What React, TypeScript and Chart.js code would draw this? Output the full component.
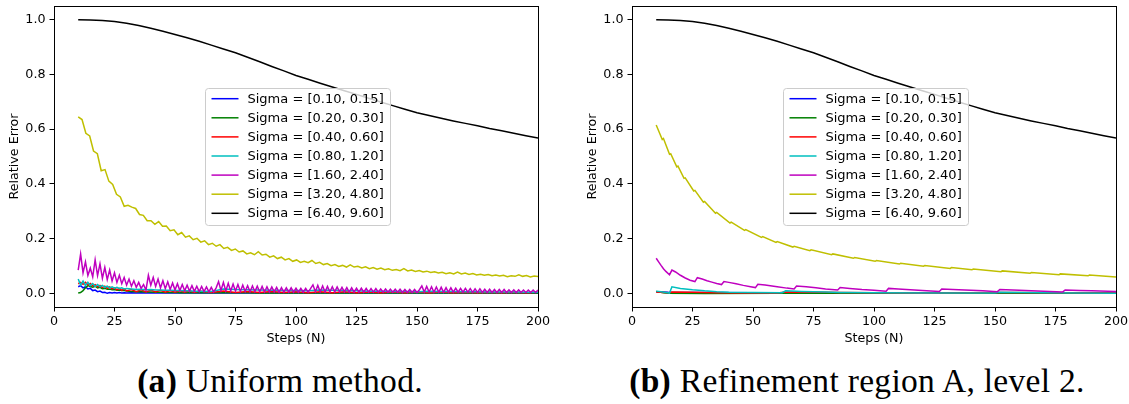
import React, { useEffect, useRef } from "react";
import { Chart, registerables } from "chart.js";

Chart.register(...registerables);

// ---------- labels / ticks ----------
const LABELS = [
  "Sigma = [0.10, 0.15]",
  "Sigma = [0.20, 0.30]",
  "Sigma = [0.40, 0.60]",
  "Sigma = [0.80, 1.20]",
  "Sigma = [1.60, 2.40]",
  "Sigma = [3.20, 4.80]",
  "Sigma = [6.40, 9.60]",
];
const COLORS = ["#0000ff", "#008000", "#ff0000", "#00bfbf", "#bf00bf", "#bfbf00", "#000000"];
const X_TICKS = [0, 25, 50, 75, 100, 125, 150, 175, 200];
const Y_TICKS = [0, 0.2, 0.4, 0.6, 0.8, 1.0];
const X_TITLE = "Steps (N)";
const Y_TITLE = "Relative Error";

// ---------- step grids ----------
const STEPS_INT = Array.from({ length: 191 }, (_, i) => 10 + i);
const STEPS_FINE = Array.from({ length: 121 }, (_, k) => 10 + (190 * k) / 120);
const STEPS_MED = Array.from({ length: 39 }, (_, k) => 10 + 5 * k);
const STEPS_LOW = [
  10, 11, 12, 13, 14, 15, 16, 17, 18, 19, 20, 21, 22, 23, 24, 25, 26, 27, 28, 29, 30,
  32, 34, 36, 38, 40, 42, 44, 46, 48, 50, 52, 54, 56, 58, 60,
  65, 70, 75, 80, 85, 90, 95, 100, 105, 110, 115, 120, 125, 130, 135, 140, 145, 150, 155, 160, 165, 170, 175, 180, 185, 190, 195, 200,
];

// ---------- (a) uniform method ----------
const BLACK = [
  1.0, 0.999, 0.997, 0.993, 0.987, 0.979, 0.969, 0.958, 0.946, 0.934,
  0.921, 0.907, 0.893, 0.879, 0.863, 0.846, 0.829, 0.813, 0.796, 0.782,
  0.768, 0.754, 0.74, 0.727, 0.713, 0.699, 0.686, 0.673, 0.66, 0.65,
  0.64, 0.63, 0.621, 0.612, 0.602, 0.594, 0.585, 0.576, 0.568,
];

const YELLOW_A = [
  0.645, 0.635, 0.585, 0.575, 0.52, 0.51, 0.448, 0.452, 0.41, 0.398,
  0.362, 0.352, 0.318, 0.322, 0.315, 0.31, 0.288, 0.285, 0.265, 0.265,
  0.252, 0.262, 0.245, 0.246, 0.229, 0.232, 0.214, 0.222, 0.205, 0.21,
  0.196, 0.201, 0.187, 0.192, 0.178, 0.183, 0.172, 0.178, 0.164, 0.168,
  0.157, 0.162, 0.151, 0.155, 0.144, 0.148, 0.141, 0.152, 0.14, 0.143,
  0.132, 0.137, 0.127, 0.132, 0.122, 0.127, 0.117, 0.122, 0.113, 0.117,
  0.112, 0.12, 0.109, 0.113, 0.105, 0.109, 0.101, 0.105, 0.098, 0.102,
  0.096, 0.104, 0.096, 0.099, 0.093, 0.097, 0.09, 0.094, 0.088, 0.092,
  0.086, 0.09, 0.084, 0.087, 0.083, 0.09, 0.082, 0.085, 0.08, 0.083,
  0.078, 0.081, 0.076, 0.079, 0.074, 0.077, 0.072, 0.075, 0.071, 0.078,
  0.071, 0.074, 0.069, 0.072, 0.067, 0.07, 0.066, 0.069, 0.064, 0.067,
  0.063, 0.066, 0.061, 0.064, 0.062, 0.068, 0.062, 0.065, 0.06, 0.063,
  0.061,
];

const MAGENTA_A = [
  0.085, 0.144, 0.075, 0.115, 0.065, 0.092, 0.06, 0.122, 0.065, 0.108,
  0.055, 0.095, 0.05, 0.085, 0.045, 0.075, 0.04, 0.066, 0.035, 0.058,
  0.03, 0.052, 0.026, 0.046, 0.022, 0.04, 0.018, 0.032, 0.012, 0.066,
  0.03, 0.058, 0.025, 0.052, 0.02, 0.046, 0.017, 0.042, 0.014, 0.038,
  0.012, 0.035, 0.01, 0.032, 0.009, 0.03, 0.008, 0.028, 0.007, 0.026,
  0.006, 0.025, 0.006, 0.023, 0.005, 0.022, 0.005, 0.02, 0.043, 0.01,
  0.04, 0.009, 0.037, 0.008, 0.034, 0.008, 0.032, 0.007, 0.03, 0.007,
  0.028, 0.006, 0.027, 0.006, 0.026, 0.005, 0.025, 0.005, 0.024, 0.005,
  0.023, 0.005, 0.022, 0.004, 0.021, 0.004, 0.02, 0.004, 0.02, 0.004,
  0.019, 0.004, 0.018, 0.004, 0.018, 0.004, 0.017, 0.031, 0.006, 0.029,
  0.006, 0.027, 0.005, 0.025, 0.005, 0.024, 0.005, 0.023, 0.005, 0.022,
  0.005, 0.021, 0.004, 0.02, 0.004, 0.019, 0.004, 0.019, 0.004, 0.018,
  0.004, 0.017, 0.004, 0.017, 0.004, 0.016, 0.004, 0.016, 0.004, 0.015,
  0.004, 0.015, 0.004, 0.015, 0.003, 0.014, 0.003, 0.014, 0.003, 0.014,
  0.003, 0.013, 0.027, 0.005, 0.025, 0.005, 0.024, 0.004, 0.023, 0.004,
  0.022, 0.004, 0.021, 0.004, 0.02, 0.004, 0.019, 0.004, 0.018, 0.004,
  0.018, 0.004, 0.017, 0.003, 0.016, 0.003, 0.016, 0.003, 0.015, 0.003,
  0.015, 0.003, 0.014, 0.003, 0.014, 0.003, 0.014, 0.003, 0.013, 0.003,
  0.013, 0.003, 0.013, 0.003, 0.012, 0.003, 0.012, 0.003, 0.012, 0.003,
  0.012,
];

const BLUE_A = [
  0.024, 0.028, 0.02, 0.024, 0.016, 0.018, 0.01, 0.012, 0.006, 0.008, 0.003, 0.004, 0.0, 0.003, 0.001, 0.003, 0.001, 0.003, 0.001, 0.002, 0.001,
  0.002, 0.001, 0.002, 0.001, 0.002, 0.001, 0.002, 0.001, 0.001, 0.001, 0.001, 0.001, 0.001, 0.001, 0.001,
  0.001, 0.002, 0.001, 0.002, 0.001, 0.001, 0.001, 0.002, 0.001, 0.001, 0.001, 0.001, 0.001, 0.001, 0.001, 0.001, 0.001, 0.001, 0.001, 0.001, 0.001, 0.001, 0.001, 0.001, 0.001, 0.001, 0.001, 0.001,
];
const GREEN_A = [
  0.001, 0.003, 0.01, 0.02, 0.028, 0.025, 0.022, 0.026, 0.02, 0.022, 0.017, 0.018, 0.015, 0.016, 0.013, 0.014, 0.011, 0.012, 0.01, 0.01, 0.008,
  0.007, 0.006, 0.006, 0.005, 0.005, 0.004, 0.004, 0.003, 0.003, 0.003, 0.002, 0.002, 0.002, 0.002, 0.002,
  0.002, 0.002, 0.002, 0.002, 0.001, 0.001, 0.001, 0.001, 0.001, 0.001, 0.001, 0.001, 0.001, 0.001, 0.001, 0.001, 0.001, 0.001, 0.001, 0.001, 0.001, 0.001, 0.001, 0.001, 0.001, 0.001, 0.001, 0.001,
];
const RED_A = [
  0.035, 0.04, 0.033, 0.04, 0.03, 0.036, 0.027, 0.032, 0.024, 0.029, 0.021, 0.026, 0.018, 0.023, 0.016, 0.02, 0.013, 0.018, 0.011, 0.016, 0.009,
  0.014, 0.006, 0.013, 0.005, 0.012, 0.005, 0.011, 0.004, 0.01, 0.004, 0.009, 0.004, 0.009, 0.003, 0.008,
  0.003, 0.008, 0.003, 0.007, 0.003, 0.007, 0.003, 0.006, 0.002, 0.006, 0.002, 0.006, 0.002, 0.005, 0.002, 0.005, 0.002, 0.005, 0.002, 0.005, 0.002, 0.004, 0.002, 0.004, 0.002, 0.004, 0.002, 0.004,
];
const CYAN_A = [
  0.052, 0.03, 0.045, 0.028, 0.04, 0.028, 0.036, 0.025, 0.032, 0.024, 0.029, 0.022, 0.026, 0.02, 0.024, 0.019, 0.022, 0.018, 0.02, 0.016, 0.018,
  0.016, 0.014, 0.015, 0.013, 0.014, 0.012, 0.012, 0.011, 0.011, 0.01, 0.01, 0.009, 0.009, 0.008, 0.008,
  0.007, 0.016, 0.014, 0.013, 0.012, 0.011, 0.01, 0.01, 0.009, 0.012, 0.011, 0.01, 0.009, 0.008, 0.008, 0.007, 0.007, 0.006, 0.008, 0.007, 0.007, 0.006, 0.006, 0.005, 0.005, 0.005, 0.004, 0.004,
];

// ---------- (b) refinement region A, level 2 ----------
const YELLOW_B_N = [
  10, 12.5, 13, 15.5, 16, 18.5, 19, 21.5, 22, 25.5, 26, 29.5, 30, 34.5, 35, 40.5, 41, 46.5, 47, 53.5,
  54, 59.5, 60, 66.5, 67, 73.5, 74, 82.5, 83, 91.5, 92, 100.5, 101, 110.5, 111, 120.5, 121, 131.5, 132, 140.5,
  141, 152.5, 153, 164.5, 165, 176.5, 177, 188.5, 189, 200,
];
const YELLOW_B = [
  0.615, 0.562, 0.566, 0.508, 0.51, 0.462, 0.465, 0.42, 0.422, 0.374, 0.376, 0.333, 0.336, 0.293, 0.296, 0.257, 0.26, 0.23, 0.233, 0.204,
  0.207, 0.186, 0.189, 0.169, 0.172, 0.156, 0.159, 0.141, 0.144, 0.128, 0.131, 0.117, 0.12, 0.107, 0.11, 0.099, 0.102, 0.091, 0.094, 0.086,
  0.089, 0.079, 0.082, 0.073, 0.076, 0.068, 0.071, 0.064, 0.067, 0.06,
];
const MAGENTA_B_N = [
  10, 11, 12, 13, 14, 15.5, 16.5, 18, 20, 22, 24, 26, 27, 29, 31, 33, 35, 37, 38, 40,
  43, 46, 49, 51, 52, 55, 60, 64, 67, 68, 72, 76, 80, 85, 86, 90, 95, 100, 105, 106,
  110, 115, 120, 127, 128, 135, 140, 145, 151, 152, 160, 170, 178, 179, 185, 190, 200,
];
const MAGENTA_B = [
  0.128, 0.115, 0.102, 0.09, 0.08, 0.068, 0.085, 0.078, 0.066, 0.056, 0.048, 0.043, 0.057, 0.052, 0.046, 0.041, 0.036, 0.032, 0.043, 0.04,
  0.035, 0.029, 0.024, 0.021, 0.033, 0.03, 0.024, 0.019, 0.016, 0.027, 0.024, 0.02, 0.016, 0.012, 0.021, 0.018, 0.014, 0.011, 0.008, 0.018,
  0.016, 0.013, 0.01, 0.007, 0.016, 0.013, 0.011, 0.009, 0.006, 0.014, 0.011, 0.008, 0.005, 0.012, 0.01, 0.009, 0.007,
];
const CYAN_B_N = [10, 12, 14, 15.5, 16.5, 20, 25, 30, 35, 40, 50, 62, 63.5, 70, 80, 86, 90, 100, 120, 150, 152, 170, 200];
const CYAN_B = [0.008, 0.006, 0.003, 0.001, 0.024, 0.018, 0.013, 0.009, 0.006, 0.004, 0.003, 0.002, 0.009, 0.007, 0.005, 0.003, 0.003, 0.002, 0.001, 0.001, 0.004, 0.002, 0.0];
const RED_B_N = [10, 15, 16.5, 25, 35, 45, 60, 63.5, 80, 86, 100, 120, 140, 152, 178, 200];
const RED_B = [0.005, 0.002, 0.005, 0.004, 0.002, 0.001, 0.001, 0.005, 0.004, 0.003, 0.002, 0.0, 0.002, 0.003, 0.002, 0.001];
const BLUE_B_N = [10, 15, 25, 50, 100, 200];
const BLUE_B = [0.006, 0.004, 0.003, 0.002, 0.001, 0.001];
const GREEN_B_N = [10, 13, 15, 30, 60, 100, 200];
const GREEN_B = [0.007, 0.002, 0.0, -0.001, 0.0, 0.0, 0.0];

type Series = { xs: number[]; ys: number[] };

const SERIES_A: Series[] = [
  { xs: STEPS_LOW, ys: BLUE_A },
  { xs: STEPS_LOW, ys: GREEN_A },
  { xs: STEPS_LOW, ys: RED_A },
  { xs: STEPS_LOW, ys: CYAN_A },
  { xs: STEPS_INT, ys: MAGENTA_A },
  { xs: STEPS_FINE, ys: YELLOW_A },
  { xs: STEPS_MED, ys: BLACK },
];
const SERIES_B: Series[] = [
  { xs: BLUE_B_N, ys: BLUE_B },
  { xs: GREEN_B_N, ys: GREEN_B },
  { xs: RED_B_N, ys: RED_B },
  { xs: CYAN_B_N, ys: CYAN_B },
  { xs: MAGENTA_B_N, ys: MAGENTA_B },
  { xs: YELLOW_B_N, ys: YELLOW_B },
  { xs: STEPS_MED, ys: BLACK },
];

const FONT_FAMILY = "DejaVu Sans";
const FONT_SIZE = 12.7;

const framePlugin = {
  id: "frame",
  afterDatasetsDraw(chart: any) {
    const { ctx, chartArea } = chart;
    ctx.save();
    ctx.strokeStyle = "#000";
    ctx.lineWidth = 1;
    ctx.strokeRect(
      Math.round(chartArea.left) + 0.5,
      Math.round(chartArea.top) + 0.5,
      Math.round(chartArea.right - chartArea.left),
      Math.round(chartArea.bottom - chartArea.top)
    );
    ctx.restore();
  },
};

const legendPlugin = {
  id: "mplLegend",
  afterDraw(chart: any) {
    const { ctx, chartArea } = chart;
    const x0 = Math.round(chartArea.left + 151) + 0.5;
    const y0 = 88.5;
    const w = 185;
    const h = 137;
    const r = 3;
    ctx.save();
    ctx.beginPath();
    ctx.moveTo(x0 + r, y0);
    ctx.lineTo(x0 + w - r, y0);
    ctx.arcTo(x0 + w, y0, x0 + w, y0 + r, r);
    ctx.lineTo(x0 + w, y0 + h - r);
    ctx.arcTo(x0 + w, y0 + h, x0 + w - r, y0 + h, r);
    ctx.lineTo(x0 + r, y0 + h);
    ctx.arcTo(x0, y0 + h, x0, y0 + h - r, r);
    ctx.lineTo(x0, y0 + r);
    ctx.arcTo(x0, y0, x0 + r, y0, r);
    ctx.closePath();
    ctx.fillStyle = "rgba(255,255,255,0.8)";
    ctx.fill();
    ctx.strokeStyle = "#cccccc";
    ctx.lineWidth = 1;
    ctx.stroke();
    chart.data.datasets.forEach((ds: any, i: number) => {
      const y = y0 + 10.2 + 19.1 * i;
      ctx.beginPath();
      ctx.strokeStyle = ds.borderColor;
      ctx.lineWidth = 1.5;
      ctx.moveTo(x0 + 6, y);
      ctx.lineTo(x0 + 33, y);
      ctx.stroke();
      ctx.fillStyle = "#000";
      ctx.font = `13px "${FONT_FAMILY}"`;
      ctx.textBaseline = "middle";
      ctx.textAlign = "left";
      ctx.fillText(ds.label, x0 + 42, y + 0.5);
    });
    ctx.restore();
  },
};

function Plot({ series, left }: { series: Series[]; left: number }) {
  const ref = useRef<HTMLCanvasElement>(null);
  useEffect(() => {
    if (!ref.current) return;
    const font = { family: FONT_FAMILY, size: FONT_SIZE };
    const chart = new Chart(ref.current, {
      type: "line",
      data: {
        datasets: series.map((s, i) => ({
          label: LABELS[i],
          data: s.xs.map((x, j) => ({ x, y: s.ys[j] })),
          borderColor: COLORS[i],
          backgroundColor: COLORS[i],
          borderWidth: 1.5,
          pointRadius: 0,
          tension: 0,
          fill: false,
          order: 6 - i,
        })),
      },
      options: {
        animation: false,
        responsive: false,
        events: [],
        layout: { padding: { left: 3, right: 14, top: 6, bottom: 0 } },
        plugins: { legend: { display: false }, tooltip: { enabled: false } },
        scales: {
          x: {
            type: "linear",
            min: 0,
            max: 200,
            afterBuildTicks: (s: any) => {
              s.ticks = X_TICKS.map((v) => ({ value: v }));
            },
            afterFit: (s: any) => {
              s.height = 43;
              s.paddingLeft = 0;
              s.paddingRight = 0;
              s.paddingTop = 0;
              s.paddingBottom = 0;
            },
            ticks: { font, color: "#000", padding: 3, maxRotation: 0, autoSkip: false, callback: (v: any) => String(v) },
            grid: { drawOnChartArea: false, drawTicks: true, tickLength: 4.5, color: "#000", lineWidth: 1 },
            border: { display: true, color: "#000", width: 1 },
            title: { display: true, text: X_TITLE, font, color: "#000", padding: { top: 2, bottom: 4 } },
          },
          y: {
            type: "linear",
            min: -0.05,
            max: 1.05,
            afterBuildTicks: (s: any) => {
              s.ticks = Y_TICKS.map((v) => ({ value: v }));
            },
            afterFit: (s: any) => {
              s.width = 51;
              s.paddingLeft = 0;
              s.paddingRight = 0;
              s.paddingTop = 0;
              s.paddingBottom = 0;
            },
            ticks: { font, color: "#000", padding: 4, autoSkip: false, callback: (v: any) => Number(v).toFixed(1) },
            grid: { drawOnChartArea: false, drawTicks: true, tickLength: 4.5, color: "#000", lineWidth: 1 },
            border: { display: true, color: "#000", width: 1 },
            title: { display: true, text: Y_TITLE, font, color: "#000", padding: { top: 4, bottom: 4 } },
          },
        },
      } as any,
      plugins: [framePlugin, legendPlugin],
    });
    return () => chart.destroy();
  }, [series]);
  return (
    <canvas
      ref={ref}
      width={552}
      height={350}
      style={{ position: "absolute", left, top: 0, width: 552, height: 350 }}
    />
  );
}

const captionStyle: React.CSSProperties = {
  position: "absolute",
  top: 364,
  textAlign: "center",
  fontFamily: '"Liberation Serif", serif',
  fontSize: 33.5,
  letterSpacing: "0.3px",
  lineHeight: "33px",
  color: "#000",
  whiteSpace: "nowrap",
};

export default function App() {
  return (
    <div
      style={{
        position: "absolute",
        left: 0,
        top: 0,
        width: 1129,
        height: 404,
        overflow: "hidden",
        background: "#fff",
      }}
    >
      <Plot series={SERIES_A} left={0} />
      <Plot series={SERIES_B} left={578} />
      <div style={{ ...captionStyle, left: 0, width: 560 }}>
        <b>(a)</b> Uniform method.
      </div>
      <div style={{ ...captionStyle, left: 587, width: 540 }}>
        <b>(b)</b> Refinement region A, level 2.
      </div>
    </div>
  );
}
